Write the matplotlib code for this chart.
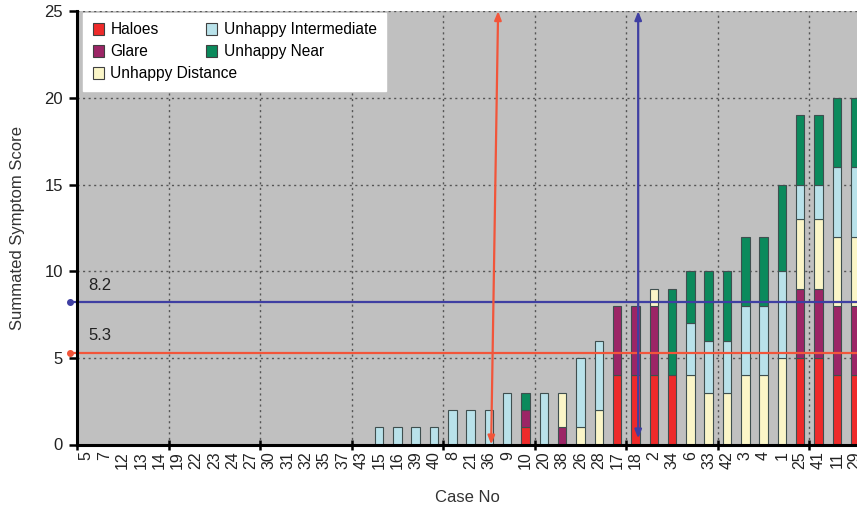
import numpy as np
import matplotlib
matplotlib.use("Agg")
import matplotlib.pyplot as plt
from matplotlib.patches import Patch

plt.rcParams['font.family'] = ['Liberation Sans', 'DejaVu Sans']

# case numbers in plotted order
cases = ['5', '7', '12', '13', '14', '19', '22', '23', '24', '27', '30', '31',
         '32', '35', '37', '43', '15', '16', '39', '40', '8', '21', '36', '9',
         '10', '20', '38', '26', '28', '17', '18', '2', '34', '6', '33', '42',
         '3', '4', '1', '25', '41', '11', '29']

haloes = [0, 0, 0, 0, 0, 0, 0, 0, 0, 0, 0, 0, 0, 0, 0, 0,
          0, 0, 0, 0, 0, 0, 0, 0, 1, 0, 0, 0, 0, 4, 4, 4, 4, 0, 0, 0, 0, 0, 0, 5, 5, 4, 4]
glare = [0, 0, 0, 0, 0, 0, 0, 0, 0, 0, 0, 0, 0, 0, 0, 0,
         0, 0, 0, 0, 0, 0, 0, 0, 1, 0, 1, 0, 0, 4, 4, 4, 0, 0, 0, 0, 0, 0, 0, 4, 4, 4, 4]
unhappy_distance = [0, 0, 0, 0, 0, 0, 0, 0, 0, 0, 0, 0, 0, 0, 0, 0,
                    0, 0, 0, 0, 0, 0, 0, 0, 0, 0, 2, 1, 2, 0, 0, 1, 0, 4, 3, 3, 4, 4, 5, 4, 4, 4, 4]
unhappy_intermediate = [0, 0, 0, 0, 0, 0, 0, 0, 0, 0, 0, 0, 0, 0, 0, 0,
                        1, 1, 1, 1, 2, 2, 2, 3, 0, 3, 0, 4, 4, 0, 0, 0, 0, 3, 3, 3, 4, 4, 5, 2, 2, 4, 4]
unhappy_near = [0, 0, 0, 0, 0, 0, 0, 0, 0, 0, 0, 0, 0, 0, 0, 0,
                0, 0, 0, 0, 0, 0, 0, 0, 1, 0, 0, 0, 0, 0, 0, 0, 5, 3, 4, 4, 4, 4, 5, 4, 4, 4, 4]

series_names = ['Haloes', 'Glare', 'Unhappy Distance', 'Unhappy Intermediate', 'Unhappy Near']
series_colors = ['#ee2a2a', '#9c2566', '#fbf6c8', '#b9e2ea', '#0b8a5c']

# cut-off lines
blue_level = 8.2
red_level = 5.3
red_case_pos = [22.12, 22.5]   # bottom / top of the red marker
blue_case_pos = 30.15

fig = plt.figure(figsize=(8.57, 5.08), dpi=100)
ax = fig.add_axes([0.0898, 0.125, 0.9102, 0.853])
ax.set_facecolor('#c0c0c0')

x = np.arange(len(cases))
bottom = np.zeros(len(cases))
for name, col, vals in zip(series_names, series_colors,
                           [haloes, glare, unhappy_distance, unhappy_intermediate, unhappy_near]):
    vals = np.array(vals, dtype=float)
    mask = vals > 0
    ax.bar(x[mask], vals[mask], bottom=bottom[mask], width=0.46, color=col,
           edgecolor='#3f4f4f', linewidth=0.8, zorder=3)
    bottom += vals

ax.set_xlim(-0.5, 42.1)
ax.set_ylim(0, 25)

# grid
for yv in [5, 10, 15, 20, 25]:
    ax.axhline(yv, color='#555555', lw=1.0, ls=(0, (1.5, 2.5)), zorder=1)
for xv in np.arange(4.5, 42, 5):
    ax.axvline(xv, color='#555555', lw=1.0, ls=(0, (1.5, 2.5)), zorder=1)

# ticks
ax.set_yticks([0, 5, 10, 15, 20, 25])
ax.set_xticks(np.arange(-0.5, 42, 5))
ax.set_xticklabels([])
ax.set_xticks(x, minor=True)
ax.set_xticklabels(cases, minor=True, rotation=90, fontsize=11.5, color='#222222')
ax.tick_params(axis='x', which='minor', length=0, pad=5)
ax.tick_params(axis='x', which='major', direction='inout', length=7, width=1.8)
ax.tick_params(axis='y', direction='out', length=6, width=1.8, labelsize=12,
               labelcolor='#222222', pad=4)

for s in ['top', 'right']:
    ax.spines[s].set_visible(False)
for s in ['left', 'bottom']:
    ax.spines[s].set_linewidth(2.2)
    ax.spines[s].set_color('black')
    ax.spines[s].set_zorder(6)

ax.set_ylabel('Summated Symptom Score', fontsize=12, color='#333333')
ax.yaxis.set_label_coords(-0.066, 0.5)
ax.set_xlabel('Case No', fontsize=12, color='#333333', labelpad=15)

# horizontal cut-off lines with value labels
for lvl, col in [(blue_level, '#3f3fa2'), (red_level, '#f2553a')]:
    ax.plot([-0.88, 42.1], [lvl, lvl], color=col, lw=1.6, zorder=5, clip_on=False)
    ax.plot([-0.88], [lvl], marker='o', ms=4, color=col, zorder=5, clip_on=False)
    ax.text(0.1, lvl + 0.97, f'{lvl}', fontsize=12, color='#222222',
            ha='left', va='center', zorder=5)

# vertical markers with arrow heads
ax.annotate('', xy=(red_case_pos[1], 25), xytext=(red_case_pos[0], 0),
            arrowprops=dict(arrowstyle='<|-|>,head_length=0.5,head_width=0.2',
                            color='#f2553a', lw=1.6, shrinkA=0, shrinkB=0),
            zorder=5, annotation_clip=False)
ax.annotate('', xy=(blue_case_pos, 25), xytext=(blue_case_pos, 0.35),
            arrowprops=dict(arrowstyle='<|-|>,head_length=0.5,head_width=0.2',
                            color='#3f3fa2', lw=1.6, shrinkA=0, shrinkB=0),
            zorder=5, annotation_clip=False)

handles = [Patch(facecolor=c, edgecolor='#404040', linewidth=0.8) for c in series_colors]
leg = ax.legend(handles, series_names, ncol=2, loc='upper left',
                bbox_to_anchor=(0.008, 0.996), fontsize=11.2, frameon=True,
                fancybox=False, handlelength=0.75, handleheight=0.75,
                handletextpad=0.4, columnspacing=-2.05, borderpad=0.6,
                labelspacing=0.45, borderaxespad=0)
leg.get_frame().set_facecolor('white')
leg.get_frame().set_edgecolor('white')
leg.get_frame().set_alpha(1)
leg.set_zorder(7)

fig.savefig('out.png', dpi=100)
